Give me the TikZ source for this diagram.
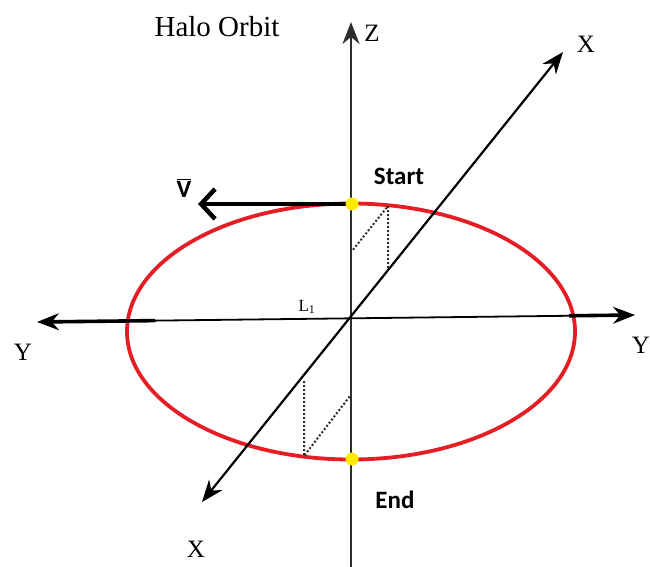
\documentclass[tikz,border=0pt]{standalone}
\usepackage{fontspec}
\setmainfont{Liberation Serif}
\newfontfamily\calib{Carlito}
\usetikzlibrary{arrows.meta,shapes.geometric,calc}
\definecolor{orbitred}{RGB}{228,30,36}
\definecolor{dotyellow}{RGB}{255,236,0}
\definecolor{axisgray}{RGB}{45,45,45}
\begin{document}
\begin{tikzpicture}[x=1pt,y=-1pt,
  axis/.style={line width=2.2pt,-{Stealth[length=22pt,width=17pt]}},
  biaxis/.style={line width=2.2pt,{Stealth[length=22pt,width=17pt]}-{Stealth[length=22pt,width=17pt]}},
  serlabel/.style={font=\fontsize{25}{25}\selectfont,inner sep=0pt},
  boldlabel/.style={font=\calib\bfseries\fontsize{25}{25}\selectfont,inner sep=0pt},
  proj/.style={dotted,line width=2pt,axisgray},
  dotmark/.style={circle,fill=dotyellow,inner sep=0pt,minimum size=13pt}]
\useasboundingbox (0,0) rectangle (650,567);
% key points
\coordinate (O) at (351,318);
\coordinate (Ztop) at (351,22);
\coordinate (Zbot) at (351,567);
\coordinate (Xtop) at (563,52);
\coordinate (Xbot) at (202,502);
\coordinate (Yl) at (37,322);
\coordinate (Yr) at (635,315);
\coordinate (S) at (352,204);
\coordinate (E) at (352,459);
\coordinate (Vtip) at (198,204);
% orbit
\node[ellipse,draw=orbitred,line width=3.8pt,minimum width=448pt,minimum height=256pt,inner sep=0pt] (orbit) at (351,331.5) {};
% axes
\draw[axis,axisgray] (Zbot) -- (Ztop);
\draw[biaxis] (Xbot) -- (Xtop);
\draw[biaxis,line width=1.8pt] (Yl) -- (Yr);
\draw[line width=3.6pt] ($(Yl)!0.02!(Yr)$) -- ($(Yl)!0.197!(Yr)$);
\draw[line width=3.6pt] ($(Yl)!0.89!(Yr)$) -- ($(Yl)!0.975!(Yr)$);
% projections
\coordinate (P1) at (388,206);
\coordinate (A1) at (388,268);
\coordinate (B1) at (352,251);
\coordinate (P2) at (304,456);
\coordinate (A2) at (304,381);
\coordinate (B2) at (350,396);
\draw[proj] (A1) -- (P1) -- (B1);
\draw[proj] (A2) -- (P2) -- (B2);
% velocity
\draw[line width=4.5pt,-{Straight Barb[length=14pt,width=30pt,line width=4.5pt]}] (S) -- (Vtip);
\node[dotmark] (start) at (S) {};
\node[dotmark] (end) at (E) {};
% labels
\node[font=\fontsize{29}{29}\selectfont,inner sep=0pt] (title) at (217,27) {Halo Orbit};
\node[serlabel] (zl) at (372,33) {Z};
\node[serlabel] (xl1) at (586,44) {X};
\node[serlabel] (yl1) at (23,352) {Y};
\node[serlabel,anchor=east] (yl2) at (650,345) {Y};
\node[serlabel] (xl2) at (196,549) {X};
\node[boldlabel] (startl) at (399,176) {Start};
\node[boldlabel] (endl) at (395,500) {End};
\node[font=\calib\bfseries\fontsize{25}{25}\selectfont,inner sep=0pt] (vl) at (184,188) {$\overline{\hbox{V}}$};
\node[font=\fontsize{17}{17}\selectfont,inner sep=0pt] (l1) at (307,307) {L\textsubscript{1}};
\end{tikzpicture}
\end{document}
